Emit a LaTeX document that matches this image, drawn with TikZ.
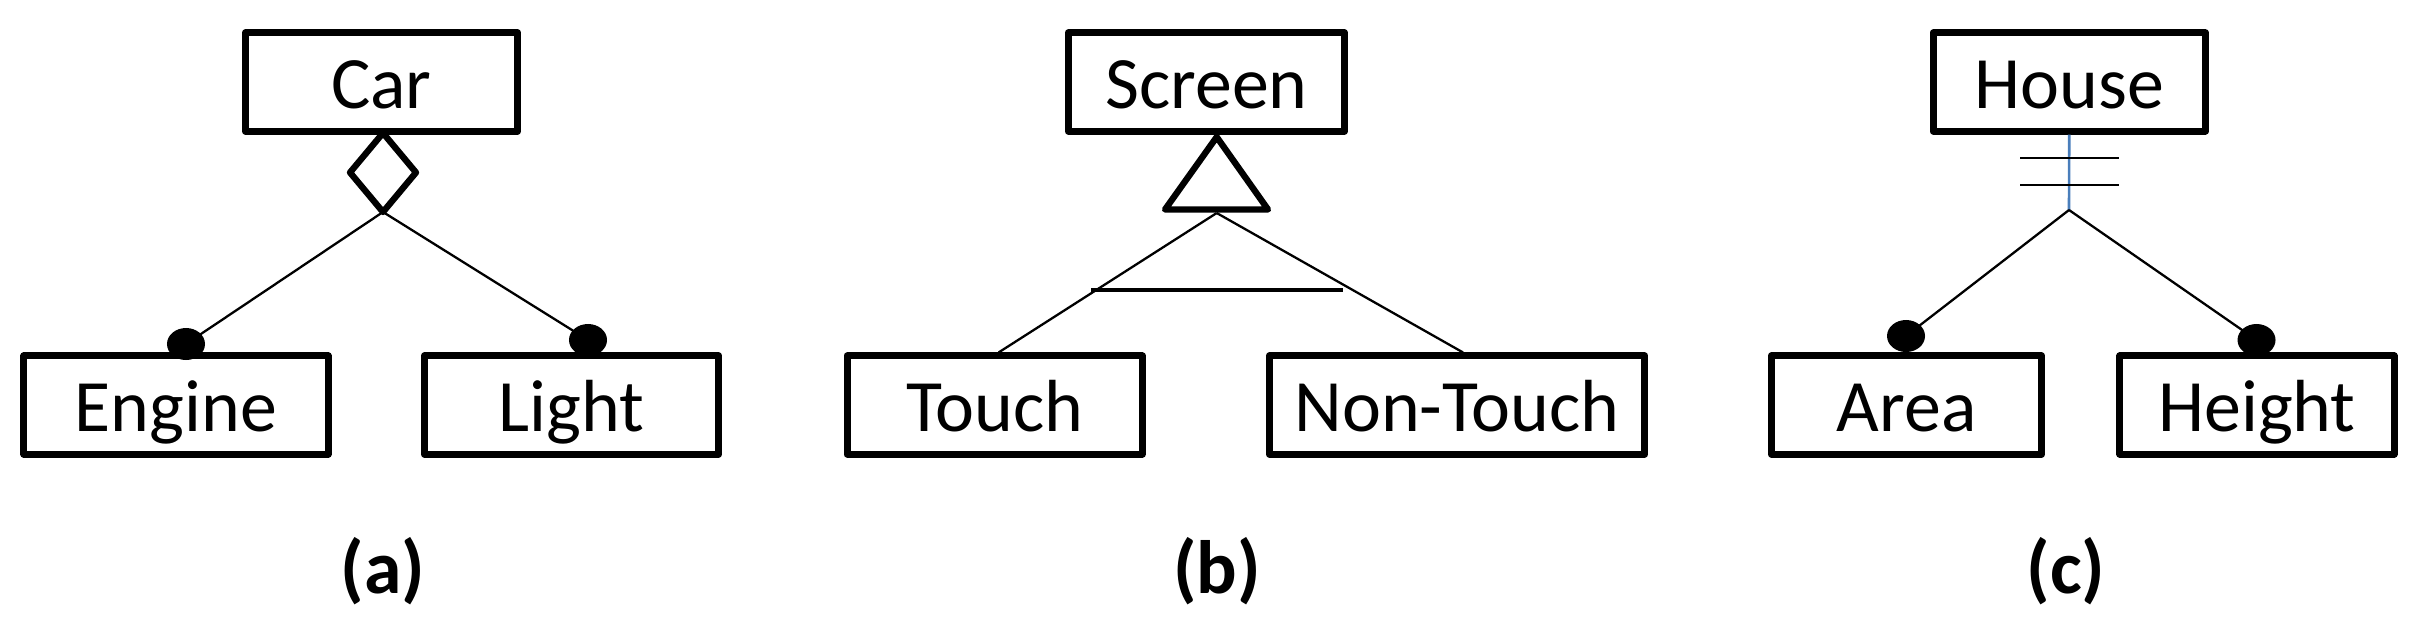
\documentclass[tikz,border=0pt]{standalone}
\usepackage{fontspec}
\setmainfont{Carlito}
\definecolor{linkblue}{HTML}{4A7EBB}

\begin{document}
\begin{tikzpicture}[x=0.01cm,y=-0.01cm,
  entity/.style={draw,line width=2pt,line join=round,fill=white,inner sep=0pt,
    minimum height=0.98cm,text height=15pt,text depth=0pt,
    font=\fontsize{21}{25}\selectfont},
  link/.style={line width=0.65pt},
  hollow/.style={line width=1.8pt,line join=round},
  caption/.style={anchor=base,font=\fontsize{21.5}{25}\selectfont\bfseries}]
  \useasboundingbox (0,0) rectangle (2428,624);
  % (a) aggregation
  \node[entity,minimum width=2.72cm] (car) at (381.5,82) {Car};
  \node[entity,minimum width=3.04cm] (engine) at (176,405) {Engine};
  \node[entity,minimum width=2.94cm] (light) at (571.5,405) {Light};
  \coordinate (jA) at (383,212);
  \coordinate (dEngine) at (186,344);
  \coordinate (dLight) at (588,340);
  \draw[hollow] (383,133) -- (350,172.5) -- (jA) -- (416,172.5) -- cycle;
  \draw[link] (jA) -- (dEngine);
  \draw[link] (jA) -- (dLight);
  \node[caption] (capA) at (383,593) {(a)};
  % (b) generalization
  \node[entity,minimum width=2.76cm] (screen) at (1206.4,82) {Screen};
  \node[entity,minimum width=2.95cm] (touch) at (994.6,405) {Touch};
  \node[entity,minimum width=3.75cm] (nontouch) at (1457,405) {Non-Touch};
  \coordinate (jB) at (1216.7,213);
  \draw[hollow] (1216.7,137) -- (1165,209.5) -- (1268,209.5) -- cycle;
  \draw[link] (jB) -- ([xshift=0.04cm]touch.north);
  \draw[link] (jB) -- ([xshift=0.06cm]nontouch.north);
  \draw[line width=1.1pt] (1091,290) -- (1343,290);
  \node[caption] (capB) at (1217,593) {(b)};
  % (c) composition
  \node[entity,minimum width=2.72cm] (house) at (2069.2,82) {House};
  \node[entity,minimum width=2.70cm] (area) at (1906.5,405) {Area};
  \node[entity,minimum width=2.74cm] (height) at (2257,405) {Height};
  \coordinate (jC) at (2069,210);
  \coordinate (dArea) at (1906,336);
  \coordinate (dHeight) at (2256.5,340);
  \draw[linkblue,line width=0.75pt] (house.south) -- (jC);
  \draw[line width=0.75pt] (2020,158) -- (2119,158);
  \draw[line width=0.75pt] (2020,185) -- (2119,185);
  \draw[link] (jC) -- (dArea);
  \draw[link] (jC) -- (dHeight);
  \node[caption] (capC) at (2066,593) {(c)};
  % filled ends
  \foreach \d in {dEngine,dLight,dArea,dHeight}
    \fill (\d) ellipse [x radius=0.19cm,y radius=0.16cm];
\end{tikzpicture}
\end{document}
